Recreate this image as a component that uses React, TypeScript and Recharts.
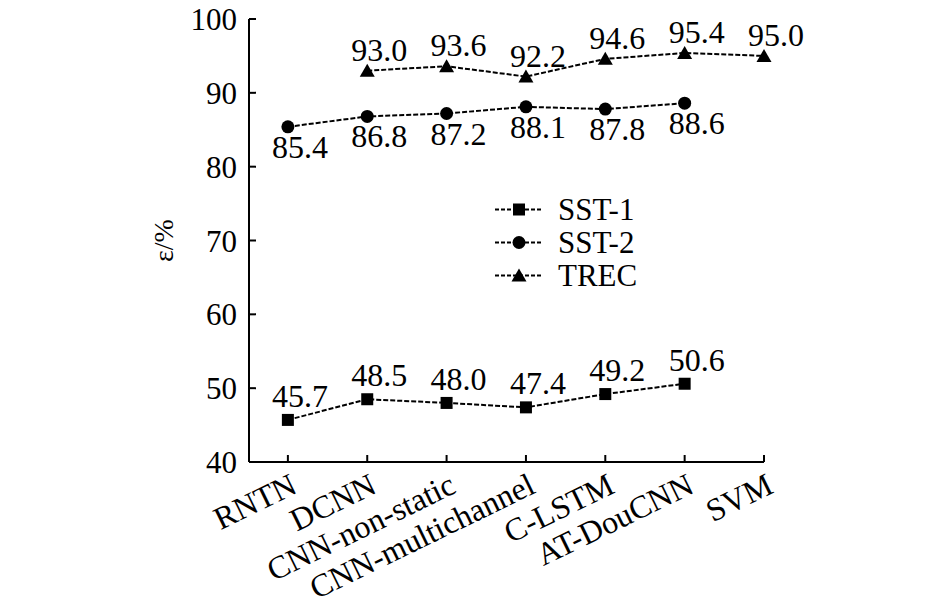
import { LineChart, Line, XAxis, YAxis, Legend, LabelList } from "recharts";

const categories = [
  "RNTN",
  "DCNN",
  "CNN-non-static",
  "CNN-multichannel",
  "C-LSTM",
  "AT-DouCNN",
  "SVM",
];
const sst1 = [45.7, 48.5, 48.0, 47.4, 49.2, 50.6, null];
const sst2 = [85.4, 86.8, 87.2, 88.1, 87.8, 88.6, null];
const trec = [null, 93.0, 93.6, 92.2, 94.6, 95.4, 95.0];
const yTicks = [40, 50, 60, 70, 80, 90, 100];

const data = categories.map((name, i) => ({
  idx: i,
  name,
  sst1: sst1[i],
  sst2: sst2[i],
  trec: trec[i],
}));

const FONT = '"Liberation Serif", "Times New Roman", serif';
const DASH = "5 2";

function drawMarker(kind: string, cx: number, cy: number, key?: string) {
  if (kind === "square")
    return <rect key={key} x={cx - 6} y={cy - 6} width={12} height={12} fill="#000" />;
  if (kind === "circle") return <circle key={key} cx={cx} cy={cy} r={6.5} fill="#000" />;
  return (
    <path
      key={key}
      d={`M${cx},${cy - 7} L${cx + 7.5},${cy + 6} L${cx - 7.5},${cy + 6} Z`}
      fill="#000"
    />
  );
}

const dotFor = (kind: string) => (props: any) => {
  const { cx, cy, index } = props;
  if (cy == null || props.value == null) return <g key={`d${index}`} />;
  return drawMarker(kind, cx, cy, `d${index}`);
};

const labelFor = (dy: number) => (props: any) => {
  const { x, y, value, index } = props;
  if (value == null) return <g key={`l${index}`} />;
  return (
    <text
      key={`l${index}`}
      x={x + 12}
      y={y + dy}
      textAnchor="middle"
      fontSize={32}
      fontFamily={FONT}
      fill="#000"
    >
      {Number(value).toFixed(1)}
    </text>
  );
};

function XTick(props: any) {
  const { x, y, payload } = props;
  return (
    <g transform={`translate(${x + 11},${y + 37})`}>
      <text
        transform="rotate(-26)"
        textAnchor="end"
        fontSize={32}
        fontFamily={FONT}
        fill="#000"
      >
        {categories[payload.value]}
      </text>
    </g>
  );
}

function YLabel(props: any) {
  const vb = props.viewBox;
  const cx = vb.x - 26;
  const cy = vb.y + vb.height / 2;
  return (
    <text
      x={cx}
      y={cy}
      transform={`rotate(-90, ${cx}, ${cy})`}
      textAnchor="middle"
      dominantBaseline="central"
      fontSize={28}
      fontFamily={FONT}
      fill="#000"
    >
      ε/%
    </text>
  );
}

const legendItems = [
  { name: "SST-1", kind: "square" },
  { name: "SST-2", kind: "circle" },
  { name: "TREC", kind: "triangle" },
];

function LegendBox() {
  return (
    <div style={{ fontFamily: FONT, fontSize: 31, lineHeight: "33px" }}>
      {legendItems.map((it) => (
        <div key={it.name} style={{ display: "flex", alignItems: "center" }}>
          <svg width={60} height={33}>
            <line x1={0} y1={16.5} x2={48} y2={16.5} stroke="#000" strokeWidth={1.8} strokeDasharray="4 2" />
            {drawMarker(it.kind, 24, 16.5)}
          </svg>
          <span style={{ marginLeft: 3 }}>{it.name}</span>
        </div>
      ))}
    </div>
  );
}

export default function App() {
  return (
    <div style={{ position: "absolute", left: 0, top: 0, width: 945, height: 612, background: "#fff" }}>
      <LineChart
        width={945}
        height={612}
        data={data}
        margin={{ top: 19, right: 181, bottom: 0, left: 189 }}
      >
        <XAxis
          dataKey="idx"
          type="number"
          domain={[-0.49, 6]}
          ticks={[0, 1, 2, 3, 4, 5, 6]}
          interval={0}
          tick={<XTick />}
          tickSize={-7}
          tickMargin={0}
          height={150}
          axisLine={{ stroke: "#000", strokeWidth: 2 }}
          tickLine={{ stroke: "#000", strokeWidth: 2 }}
        />
        <YAxis
          type="number"
          domain={[40, 100]}
          ticks={yTicks}
          interval={0}
          width={60}
          tickSize={-7}
          tickMargin={19}
          axisLine={{ stroke: "#000", strokeWidth: 2 }}
          tickLine={{ stroke: "#000", strokeWidth: 2 }}
          tick={{ fontSize: 31, fontFamily: FONT, fill: "#000" }}
          label={<YLabel />}
        />
        <Legend
          layout="horizontal"
          verticalAlign="middle"
          align="center"
          content={() => <LegendBox />}
          wrapperStyle={{ left: 495, top: 193, width: 200, bottom: "auto" }}
        />
        <Line
          dataKey="sst1"
          name="SST-1"
          stroke="#000"
          strokeWidth={2}
          strokeDasharray={DASH}
          dot={dotFor("square")}
          isAnimationActive={false}
        >
          <LabelList dataKey="sst1" content={labelFor(-13)} />
        </Line>
        <Line
          dataKey="sst2"
          name="SST-2"
          stroke="#000"
          strokeWidth={2}
          strokeDasharray={DASH}
          dot={dotFor("circle")}
          isAnimationActive={false}
        >
          <LabelList dataKey="sst2" content={labelFor(31)} />
        </Line>
        <Line
          dataKey="trec"
          name="TREC"
          stroke="#000"
          strokeWidth={2}
          strokeDasharray={DASH}
          dot={dotFor("triangle")}
          isAnimationActive={false}
        >
          <LabelList dataKey="trec" content={labelFor(-10)} />
        </Line>
      </LineChart>
    </div>
  );
}
